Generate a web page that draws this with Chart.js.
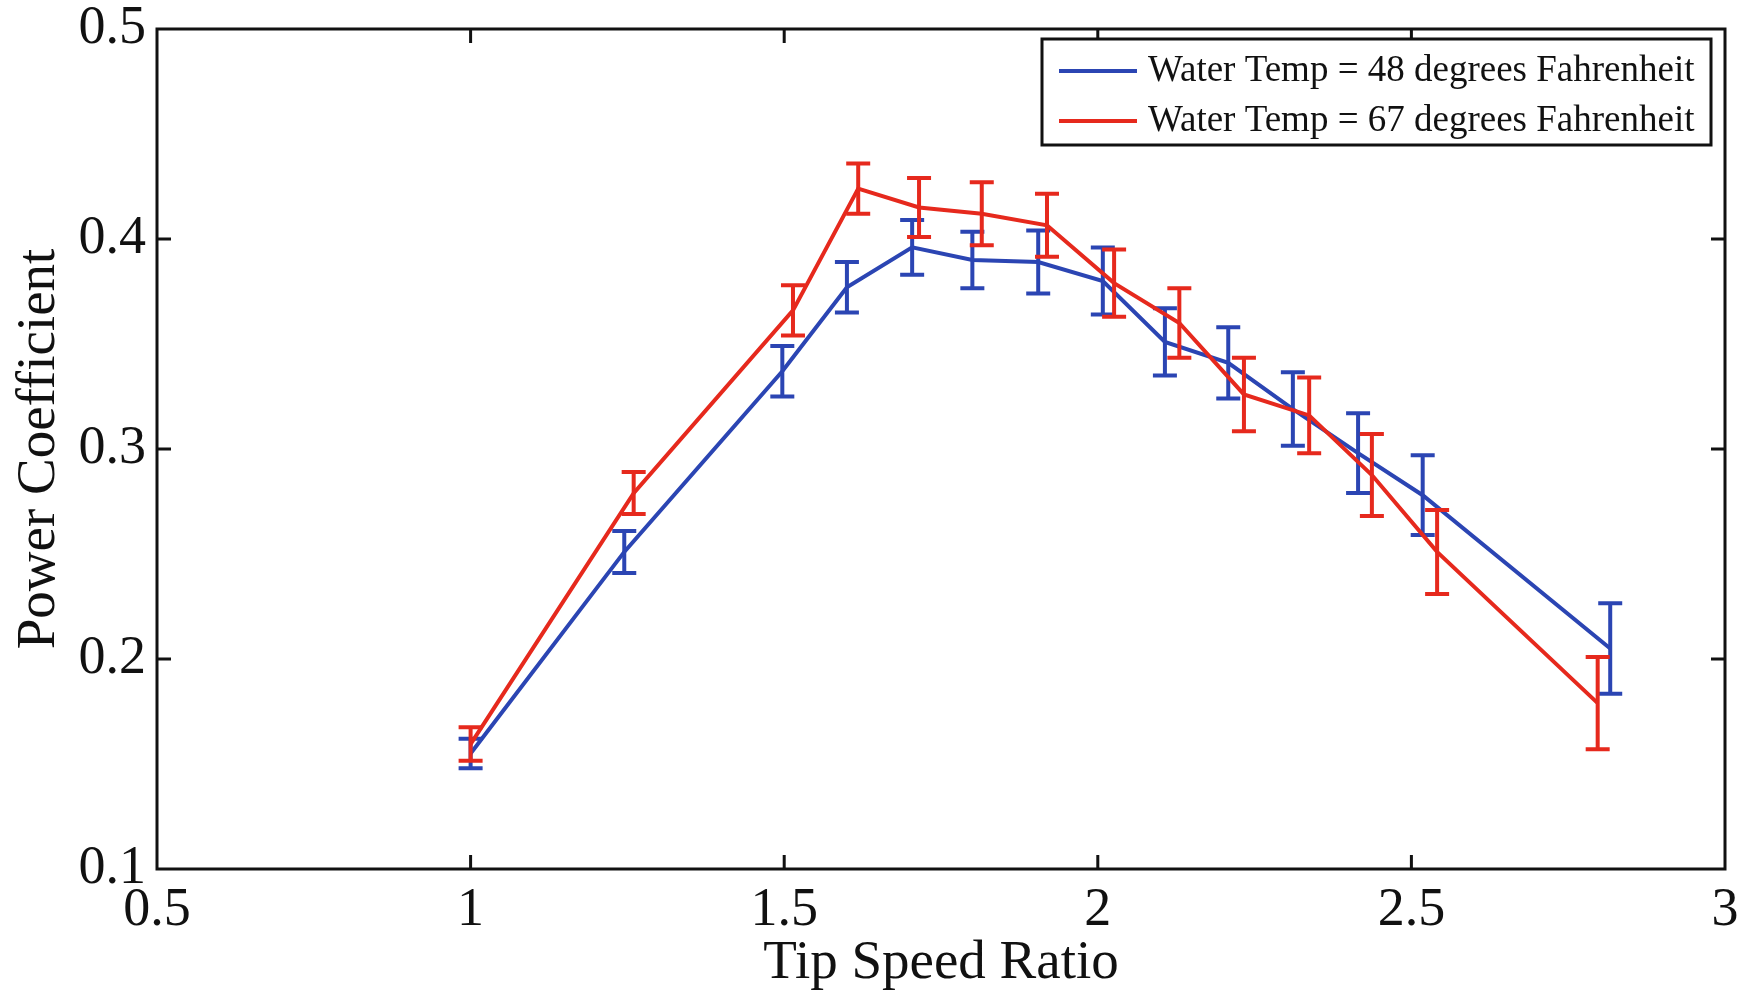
<!DOCTYPE html>
<html>
<head>
<meta charset="utf-8">
<title>Power Coefficient vs Tip Speed Ratio</title>
<script src="https://cdn.jsdelivr.net/npm/chart.js@4.4.1/dist/chart.umd.min.js"></script>
<style>
  html, body { margin: 0; padding: 0; background: #fff; }
  #wrap { width: 1748px; height: 993px; position: relative; }
</style>
</head>
<body>
<div id="wrap"><canvas id="cpChart"></canvas></div>
<script>
// 48 F run
const tsrCold = [1.0, 1.245, 1.497, 1.60, 1.704, 1.80, 1.905, 2.008, 2.107, 2.208, 2.311, 2.415, 2.518, 2.817];
const cpCold  = [0.155, 0.251, 0.337, 0.377, 0.396, 0.390, 0.389, 0.380, 0.351, 0.341, 0.319, 0.298, 0.278, 0.205];
const errCold = [0.007, 0.010, 0.012, 0.012, 0.013, 0.0135, 0.015, 0.016, 0.016, 0.017, 0.0175, 0.019, 0.019, 0.0215];

// 67 F run
const tsrWarm = [1.0, 1.26, 1.514, 1.618, 1.715, 1.815, 1.919, 2.026, 2.13, 2.233, 2.337, 2.437, 2.541, 2.797];
const cpWarm  = [0.1595, 0.279, 0.366, 0.424, 0.415, 0.412, 0.4065, 0.379, 0.360, 0.326, 0.316, 0.2876, 0.251, 0.179];
const errWarm = [0.008, 0.010, 0.012, 0.012, 0.014, 0.015, 0.015, 0.016, 0.0165, 0.0175, 0.018, 0.0195, 0.020, 0.022];

const seriesLabels = ['Water Temp = 48 degrees Fahrenheit', 'Water Temp = 67 degrees Fahrenheit'];
const xTicks = [0.5, 1, 1.5, 2, 2.5, 3];
const yTicks = [0.1, 0.2, 0.3, 0.4, 0.5];

const BLUE = '#2b45b3';
const RED = '#e6291d';
const FONT = '"Liberation Serif", "Times New Roman", serif';

function toPoints(xs, ys) {
  return xs.map((x, i) => ({ x: x, y: ys[i] }));
}

// vertical error bars with caps, drawn right after their own line
const errorBars = {
  id: 'errorBars',
  afterDatasetDraw(chart, args) {
    const ds = chart.data.datasets[args.index];
    if (!ds.errors) return;
    const xs = chart.scales.x, ys = chart.scales.y;
    const ctx = chart.ctx;
    ctx.save();
    ctx.strokeStyle = ds.borderColor;
    ctx.lineWidth = 4;
    ctx.lineCap = 'butt';
    ds.data.forEach((p, i) => {
      const px = xs.getPixelForValue(p.x);
      const top = ys.getPixelForValue(p.y + ds.errors[i]);
      const bot = ys.getPixelForValue(p.y - ds.errors[i]);
      const cap = 12;
      ctx.beginPath();
      ctx.moveTo(px, top); ctx.lineTo(px, bot);
      ctx.moveTo(px - cap, top); ctx.lineTo(px + cap, top);
      ctx.moveTo(px - cap, bot); ctx.lineTo(px + cap, bot);
      ctx.stroke();
    });
    ctx.restore();
  }
};

// boxed axes with inward ticks on all four sides
const axesBox = {
  id: 'axesBox',
  afterDraw(chart) {
    const { ctx, chartArea: a } = chart;
    const xs = chart.scales.x, ys = chart.scales.y;
    const len = 14;
    ctx.save();
    ctx.strokeStyle = '#111';
    ctx.lineWidth = 3;
    ctx.strokeRect(a.left, a.top, a.right - a.left, a.bottom - a.top);
    ctx.beginPath();
    xs.ticks.forEach(t => {
      const px = xs.getPixelForValue(t.value);
      if (px <= a.left + 1 || px >= a.right - 1) return;
      ctx.moveTo(px, a.bottom); ctx.lineTo(px, a.bottom - len);
      ctx.moveTo(px, a.top); ctx.lineTo(px, a.top + len);
    });
    ys.ticks.forEach(t => {
      const py = ys.getPixelForValue(t.value);
      if (py <= a.top + 1 || py >= a.bottom - 1) return;
      ctx.moveTo(a.left, py); ctx.lineTo(a.left + len, py);
      ctx.moveTo(a.right, py); ctx.lineTo(a.right - len, py);
    });
    ctx.stroke();
    ctx.restore();
  }
};

// boxed legend in the upper right corner
const boxLegend = {
  id: 'boxLegend',
  afterDraw(chart) {
    const ctx = chart.ctx;
    const a = chart.chartArea;
    const right = a.right - 14, top = a.top + 10;
    const w = 669, h = 106;
    const left = right - w;
    ctx.save();
    ctx.fillStyle = '#fff';
    ctx.fillRect(left, top, w, h);
    ctx.strokeStyle = '#111';
    ctx.lineWidth = 3;
    ctx.strokeRect(left, top, w, h);
    ctx.font = '37px ' + FONT;
    ctx.textBaseline = 'middle';
    ctx.fillStyle = '#111';
    chart.data.datasets.forEach((ds, i) => {
      const y = top + 32 + i * 50;
      ctx.strokeStyle = ds.borderColor;
      ctx.lineWidth = 4;
      ctx.beginPath();
      ctx.moveTo(left + 17, y);
      ctx.lineTo(left + 95, y);
      ctx.stroke();
      ctx.fillText(ds.label, left + 106, y);
    });
    ctx.restore();
  }
};

const cpData = {
  datasets: [
    {
      label: seriesLabels[0],
      data: toPoints(tsrCold, cpCold),
      errors: errCold,
      borderColor: BLUE,
      backgroundColor: BLUE,
      borderWidth: 4,
      pointRadius: 0,
      tension: 0,
      order: 1
    },
    {
      label: seriesLabels[1],
      data: toPoints(tsrWarm, cpWarm),
      errors: errWarm,
      borderColor: RED,
      backgroundColor: RED,
      borderWidth: 4,
      pointRadius: 0,
      tension: 0,
      order: 0
    }
  ]
};

const cpConfig = {
  type: 'line',
  data: cpData,
  plugins: [errorBars, axesBox, boxLegend],
  options: {
    responsive: true,
    maintainAspectRatio: false,
    animation: false,
    layout: { padding: { top: 29, right: 23, left: 0, bottom: 0 } },
    plugins: {
      legend: { display: false },
      tooltip: { enabled: false }
    },
    scales: {
      x: {
        type: 'linear',
        min: 0.5,
        max: 3,
        afterFit: s => { s.height = 124; s.paddingLeft = 0; s.paddingRight = 0; },
        afterBuildTicks: s => { s.ticks = xTicks.map(v => ({ value: v })); },
        grid: { display: false, drawTicks: false },
        border: { display: false },
        ticks: {
          autoSkip: false,
          maxRotation: 0,
          padding: 9,
          color: '#111',
          font: { family: FONT, size: 54 },
          callback: v => String(v)
        },
        title: {
          display: true,
          text: 'Tip Speed Ratio',
          color: '#111',
          font: { family: FONT, size: 55 },
          padding: { top: 0, bottom: -4 }
        }
      },
      y: {
        min: 0.1,
        max: 0.5,
        afterFit: s => { s.width = 157; s.paddingTop = 0; s.paddingBottom = 0; },
        afterBuildTicks: s => { s.ticks = yTicks.map(v => ({ value: v })); },
        grid: { display: false, drawTicks: false },
        border: { display: false },
        ticks: {
          autoSkip: false,
          padding: 11,
          color: '#111',
          font: { family: FONT, size: 54 },
          callback: v => v.toFixed(1)
        },
        title: {
          display: true,
          text: 'Power Coefficient',
          color: '#111',
          font: { family: FONT, size: 55 },
          padding: { top: 7, bottom: 0 }
        }
      }
    }
  }
};

let cpChart = new Chart(document.getElementById('cpChart'), cpConfig);
</script>
</body>
</html>
